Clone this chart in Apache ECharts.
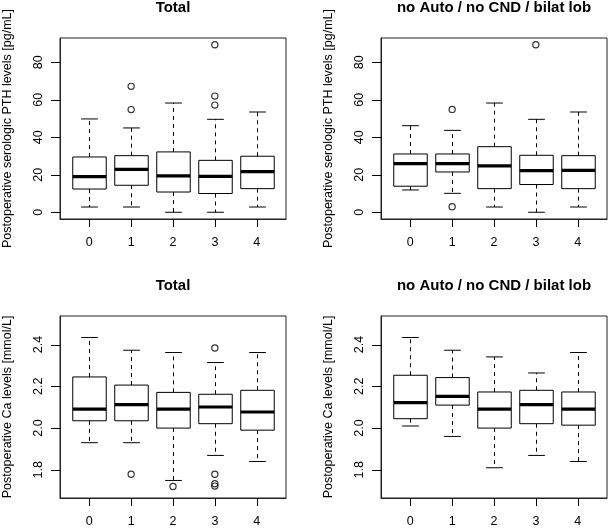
<!DOCTYPE html>
<html>
<head>
<meta charset="utf-8">
<script src="https://cdn.jsdelivr.net/npm/echarts@6/dist/echarts.min.js"></script>
<style>
html,body{margin:0;padding:0;background:#fff;}
#chart{width:609px;height:528px;}
</style>
</head>
<body>
<div id="chart"></div>
<script>
// ---- data ----
const groups = [0, 1, 2, 3, 4];
const xTickLabels = ['0', '1', '2', '3', '4'];
const pthTicks = [0, 20, 40, 60, 80];
const caTicks = [1.8, 2.0, 2.2, 2.4];

// [lower whisker, Q1, median, Q3, upper whisker] per group
const pthTotalStats = [
  [2.8, 12.4, 19.0, 29.5, 49.8],
  [2.8, 14.4, 22.9, 30.2, 45.0],
  [0.0, 10.8, 19.4, 32.2, 58.3],
  [0.0, 10.0, 19.2, 27.7, 49.6],
  [2.8, 12.6, 21.7, 29.9, 53.5]
];
const pthTotalOutliers = [[1, 67.2], [1, 54.8], [3, 89.4], [3, 62.0], [3, 57.2]];

const pthSubStats = [
  [11.9, 13.9, 26.0, 31.1, 46.2],
  [10.1, 21.5, 26.0, 31.1, 43.7],
  [2.8, 12.6, 24.7, 35.0, 58.3],
  [0.0, 14.8, 22.2, 30.4, 49.6],
  [2.8, 12.6, 22.4, 30.2, 53.5]
];
const pthSubOutliers = [[1, 54.9], [1, 3.0], [3, 89.4]];

const caTotalStats = [
  [1.930, 2.035, 2.091, 2.245, 2.434],
  [1.930, 2.035, 2.112, 2.206, 2.373],
  [1.749, 2.000, 2.091, 2.171, 2.362],
  [1.869, 2.021, 2.101, 2.162, 2.314],
  [1.840, 1.990, 2.077, 2.181, 2.362]
];
const caTotalOutliers = [[1, 1.779], [2, 1.720], [3, 2.384], [3, 1.779], [3, 1.733], [3, 1.722]];

const caSubStats = [
  [2.010, 2.045, 2.122, 2.253, 2.434],
  [1.960, 2.110, 2.152, 2.242, 2.373],
  [1.810, 2.000, 2.091, 2.173, 2.341],
  [1.869, 2.021, 2.112, 2.181, 2.264],
  [1.840, 2.014, 2.091, 2.173, 2.362]
];
const caSubOutliers = [];

const titles = ['Total', 'no Auto / no CND / bilat lob', 'Total', 'no Auto / no CND / bilat lob'];
const pthName = 'Postoperative serologic PTH levels [pg/mL]';
const caName = 'Postoperative Ca levels [mmol/L]';

// ---- layout ----
const FONT = '"Liberation Sans", Arial, Helvetica, sans-serif';
const X_MIN = -0.7, X_MAX = 4.7;
const grids = [
  {left: 60, top: 38, width: 226, height: 181},
  {left: 381, top: 38, width: 226, height: 181},
  {left: 60, top: 316, width: 226, height: 182},
  {left: 381, top: 316, width: 226, height: 182}
];
const panels = [
  {stats: pthTotalStats, out: pthTotalOutliers, ticks: pthTicks, name: pthName, min: -3.6, max: 93, dec: 0},
  {stats: pthSubStats, out: pthSubOutliers, ticks: pthTicks, name: pthName, min: -3.6, max: 93, dec: 0},
  {stats: caTotalStats, out: caTotalOutliers, ticks: caTicks, name: caName, min: 1.665, max: 2.537, dec: 1},
  {stats: caSubStats, out: caSubOutliers, ticks: caTicks, name: caName, min: 1.665, max: 2.537, dec: 1}
];

function renderBox(params, api) {
  const x = api.value(0);
  const lo = api.coord([x, api.value(1)]);
  const q1 = api.coord([x, api.value(2)]);
  const med = api.coord([x, api.value(3)]);
  const q3 = api.coord([x, api.value(4)]);
  const hi = api.coord([x, api.value(5)]);
  const bw = api.size([0.8, 0])[0];
  const cw = api.size([0.4, 0])[0];
  const cx = Math.round(med[0]) + 0.5;
  const solid = {stroke: '#000', lineWidth: 1, fill: null};
  const dashed = {stroke: '#000', lineWidth: 1, lineDash: [4, 4], fill: null};
  return {
    type: 'group',
    children: [
      {type: 'line', shape: {x1: cx, y1: q3[1], x2: cx, y2: hi[1]}, style: dashed},
      {type: 'line', shape: {x1: cx, y1: q1[1], x2: cx, y2: lo[1]}, style: dashed},
      {type: 'line', shape: {x1: cx - cw / 2, y1: hi[1], x2: cx + cw / 2, y2: hi[1]}, style: solid},
      {type: 'line', shape: {x1: cx - cw / 2, y1: lo[1], x2: cx + cw / 2, y2: lo[1]}, style: solid},
      {type: 'rect', shape: {x: cx - bw / 2, y: q3[1], width: bw, height: q1[1] - q3[1]},
        style: {stroke: '#000', lineWidth: 1, fill: '#fff'}},
      {type: 'line', shape: {x1: cx - bw / 2, y1: med[1], x2: cx + bw / 2, y2: med[1]},
        style: {stroke: '#000', lineWidth: 3.2, fill: null}}
    ]
  };
}

// outward tick marks placed through the axes' scales (edge = axis extent)
function makeYTick(p) {
  return function (params, api) {
    const pt = api.coord([X_MIN, api.value(1)]);
    const y = Math.round(pt[1]) + 0.5;
    const x0 = Math.round(pt[0]);
    return {type: 'line', shape: {x1: x0 - 9, y1: y, x2: x0, y2: y},
      style: {stroke: '#000', lineWidth: 1, fill: null}};
  };
}
function makeXTick(p) {
  return function (params, api) {
    const pt = api.coord([api.value(0), p.min]);
    const x = Math.round(pt[0]) + 0.5;
    const y0 = Math.round(pt[1]);
    return {type: 'line', shape: {x1: x, y1: y0, x2: x, y2: y0 + 8},
      style: {stroke: '#000', lineWidth: 1, fill: null}};
  };
}

const option = {
  animation: false,
  backgroundColor: '#fff',
  title: titles.map((t, i) => ({
    text: t,
    left: grids[i].left + grids[i].width / 2,
    top: i < 2 ? 0 : 278,
    textAlign: 'center',
    padding: 0,
    textStyle: {fontFamily: FONT, fontSize: 15, fontWeight: 'bold', color: '#000'}
  })),
  grid: grids.map(g => Object.assign({show: true, borderColor: '#222', borderWidth: 1,
    backgroundColor: 'transparent', containLabel: false, outerBoundsMode: 'none'}, g)),
  xAxis: grids.map((g, i) => ({
    type: 'value', gridIndex: i, min: X_MIN, max: X_MAX, position: 'bottom',
    axisLine: {show: true, onZero: false, lineStyle: {color: '#222', width: 1}},
    splitLine: {show: false},
    axisTick: {show: false},
    axisLabel: {show: true, customValues: groups, margin: 17,
      formatter: v => xTickLabels[Math.round(v)],
      fontFamily: FONT, fontSize: 12.5, color: '#000'}
  })),
  yAxis: panels.map((p, i) => ({
    type: 'value', gridIndex: i, min: p.min, max: p.max, position: 'left',
    name: p.name, nameLocation: 'middle', nameGap: 46,
    nameTextStyle: {fontFamily: FONT, fontSize: 12.5, color: '#000'},
    axisLine: {show: true, onZero: false, lineStyle: {color: '#222', width: 1}},
    splitLine: {show: false},
    axisTick: {show: false},
    axisLabel: {show: true, customValues: p.ticks, rotate: 90, margin: 15,
      formatter: v => v.toFixed(p.dec),
      fontFamily: FONT, fontSize: 12.5, color: '#000'}
  })),
  series: []
};

panels.forEach((p, i) => {
  option.series.push({
    type: 'custom', xAxisIndex: i, yAxisIndex: i,
    renderItem: renderBox,
    encode: {x: 0, y: [1, 2, 3, 4, 5]},
    data: groups.map((g, k) => [g].concat(p.stats[k])),
    silent: true
  });
  option.series.push({
    type: 'scatter', xAxisIndex: i, yAxisIndex: i,
    symbol: 'circle', symbolSize: 6.2,
    itemStyle: {color: 'rgba(0,0,0,0)', borderColor: '#000', borderWidth: 1.2},
    data: p.out,
    silent: true
  });
  option.series.push({
    type: 'custom', xAxisIndex: i, yAxisIndex: i, clip: false, z: 10,
    renderItem: makeYTick(p),
    encode: {x: 0, y: 1},
    data: p.ticks.map(v => [groups[0], v]),
    silent: true
  });
  option.series.push({
    type: 'custom', xAxisIndex: i, yAxisIndex: i, clip: false, z: 10,
    renderItem: makeXTick(p),
    encode: {x: 0, y: 1},
    data: groups.map(g => [g, p.ticks[0]]),
    silent: true
  });
});

const chart = echarts.init(document.getElementById('chart'), null, {renderer: 'canvas'});
chart.setOption(option);
</script>
</body>
</html>
